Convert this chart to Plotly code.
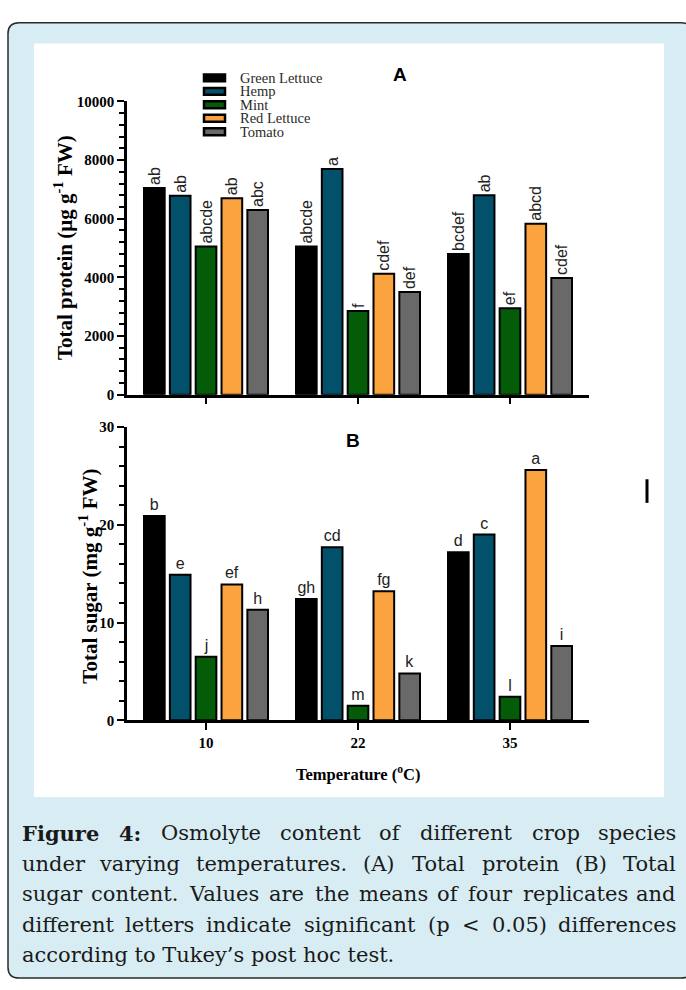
import plotly.graph_objects as go

W, H = 686, 990

# ---------------- data ----------------
temps = ["10", "22", "35"]
species = ["Green Lettuce", "Hemp", "Mint", "Red Lettuce", "Tomato"]
colors = ["#000000", "#03506a", "#045c08", "#fba43f", "#696969"]

# Total protein (ug g-1 FW)
protein_green_lettuce = [7050, 5050, 4800]
protein_hemp = [6780, 7700, 6800]
protein_mint = [5050, 2850, 2950]
protein_red_lettuce = [6700, 4120, 5830]
protein_tomato = [6300, 3500, 3980]
protein_letters_green_lettuce = ["ab", "abcde", "bcdef"]
protein_letters_hemp = ["ab", "a", "ab"]
protein_letters_mint = ["abcde", "f", "ef"]
protein_letters_red_lettuce = ["ab", "cdef", "abcd"]
protein_letters_tomato = ["abc", "def", "cdef"]

# Total sugar (mg g-1 FW)
sugar_green_lettuce = [20.9, 12.4, 17.2]
sugar_hemp = [14.9, 17.7, 19.0]
sugar_mint = [6.5, 1.5, 2.4]
sugar_red_lettuce = [13.9, 13.2, 25.6]
sugar_tomato = [11.3, 4.8, 7.6]
sugar_letters_green_lettuce = ["b", "gh", "d"]
sugar_letters_hemp = ["e", "cd", "c"]
sugar_letters_mint = ["j", "m", "l"]
sugar_letters_red_lettuce = ["ef", "fg", "a"]
sugar_letters_tomato = ["h", "k", "i"]

protein_ticks = [0, 2000, 4000, 6000, 8000, 10000]
protein_tick_labels = ["0", "2000", "4000", "6000", "8000", "10000"]
sugar_ticks = [0, 10, 20, 30]
sugar_tick_labels = ["0", "10", "20", "30"]

protein_series = [protein_green_lettuce, protein_hemp, protein_mint, protein_red_lettuce, protein_tomato]
protein_letters = [protein_letters_green_lettuce, protein_letters_hemp, protein_letters_mint,
                   protein_letters_red_lettuce, protein_letters_tomato]
sugar_series = [sugar_green_lettuce, sugar_hemp, sugar_mint, sugar_red_lettuce, sugar_tomato]
sugar_letters = [sugar_letters_green_lettuce, sugar_letters_hemp, sugar_letters_mint,
                 sugar_letters_red_lettuce, sugar_letters_tomato]

caption_lines = [
    "Figure 4: Osmolyte content of different crop species",
    "under varying temperatures. (A) Total protein (B) Total",
    "sugar content. Values are the means of four replicates and",
    "different letters indicate significant (p < 0.05) differences",
    "according to Tukey\u2019s post hoc test.",
]


def px(x):
    return x / W


def py(y):
    return 1 - y / H


SERIF = "Liberation Serif"
SANS = "Liberation Sans"

fig = go.Figure()

for name, col, vals, labs in zip(species, colors, protein_series, protein_letters):
    fig.add_trace(go.Bar(
        x=temps, y=vals, name=name, xaxis="x", yaxis="y",
        marker=dict(color=col, line=dict(color="black", width=2)),
        text=labs, textposition="outside", textangle=-90, constraintext="none",
        cliponaxis=False, textfont=dict(family=SANS, size=16, color="#222")))

for name, col, vals, labs in zip(species, colors, sugar_series, sugar_letters):
    fig.add_trace(go.Bar(
        x=temps, y=vals, name=name, xaxis="x2", yaxis="y2",
        marker=dict(color=col, line=dict(color="black", width=2)),
        text=labs, textposition="outside", textangle=0, constraintext="none",
        cliponaxis=False, textfont=dict(family=SANS, size=16, color="#222")))

xdom = [px(127), px(589)]
tickfont = dict(family=SERIF, size=15, color="black", weight="bold")
common = dict(showline=True, linecolor="black", linewidth=2.5, ticks="outside",
              tickcolor="black", tickwidth=2, ticklen=7, showgrid=False, zeroline=False)

fig.update_layout(
    width=W, height=H, margin=dict(l=0, r=0, t=0, b=0),
    paper_bgcolor="white", plot_bgcolor="rgba(0,0,0,0)",
    showlegend=False, barmode="group", bargap=0.15, bargroupgap=0.2,
    xaxis=dict(domain=xdom, anchor="y", type="category", range=[-0.52, 2.52],
               showticklabels=False, **common),
    yaxis=dict(domain=[py(393), py(95)], anchor="x", range=[0, 10000],
               tickmode="array", tickvals=protein_ticks, ticktext=protein_tick_labels,
               tickfont=tickfont,
               minor=dict(dtick=400, ticks="outside", ticklen=5, tickwidth=2, tickcolor="black"),
               **common),
    xaxis2=dict(domain=xdom, anchor="y2", type="category", range=[-0.52, 2.52],
                tickfont=dict(family=SERIF, size=15, color="black", weight="bold"), **common),
    yaxis2=dict(domain=[py(724), py(426)], anchor="x2", range=[0, 30],
                tickmode="array", tickvals=sugar_ticks, ticktext=sugar_tick_labels,
                tickfont=tickfont,
                minor=dict(dtick=2, ticks="outside", ticklen=5, tickwidth=2, tickcolor="black"),
                **common),
)

shapes = []
# rounded caption box
x0, x1, y0, y1, r = 8, 692, 15, 986, 11
path = (f"M {px(x0 + r)},{py(y0)} L {px(x1 - r)},{py(y0)} Q {px(x1)},{py(y0)} {px(x1)},{py(y0 + r)} "
        f"L {px(x1)},{py(y1 - r)} Q {px(x1)},{py(y1)} {px(x1 - r)},{py(y1)} "
        f"L {px(x0 + r)},{py(y1)} Q {px(x0)},{py(y1)} {px(x0)},{py(y1 - r)} "
        f"L {px(x0)},{py(y0 + r)} Q {px(x0)},{py(y0)} {px(x0 + r)},{py(y0)} Z")
shapes.append(dict(type="path", path=path, xref="paper", yref="paper", layer="below",
                   fillcolor="#d8edf3", line=dict(color="#2a2a2a", width=1.5)))
shapes.append(dict(type="rect", xref="paper", yref="paper", layer="below",
                   x0=px(34), x1=px(664), y0=py(802), y1=py(36),
                   fillcolor="white", line=dict(width=0)))
# stray mark in the figure image
shapes.append(dict(type="line", xref="paper", yref="paper", x0=px(647), x1=px(647),
                   y0=py(503), y1=py(479), line=dict(color="black", width=3)))

annotations = []
# legend (manual, tight spacing as in the original)
for i, (name, col) in enumerate(zip(species, colors)):
    yc = 71 + i * 13.7
    shapes.append(dict(type="rect", xref="paper", yref="paper",
                       x0=px(204), x1=px(225), y0=py(yc + 3.5), y1=py(yc - 3.5),
                       fillcolor=col, line=dict(color="black", width=2.5)))
    annotations.append(dict(text=name, x=px(238), y=py(yc), xref="paper", yref="paper",
                            xanchor="left", yanchor="middle", showarrow=False,
                            font=dict(family=SERIF, size=14.5, color="#2a2a2a")))

annotations += [
    dict(text="A", x=px(400), y=py(68), font=dict(family=SANS, size=19, color="black", weight="bold")),
    dict(text="B", x=px(353), y=py(440), font=dict(family=SANS, size=19, color="black", weight="bold")),
    dict(text="Total protein (\u03bcg g<sup>-1</sup> FW)", x=px(63), y=py(244), textangle=-90,
         font=dict(family=SERIF, size=21, color="black", weight="bold")),
    dict(text="Total sugar (mg g<sup>-1</sup> FW)", x=px(89), y=py(578), textangle=-90,
         font=dict(family=SERIF, size=21, color="black", weight="bold")),
    dict(text="Temperature (<sup>o</sup>C)", x=px(358), y=py(778),
         font=dict(family=SERIF, size=16.5, color="black", weight="bold")),
]
for a in annotations[-5:]:
    a.update(xref="paper", yref="paper", showarrow=False, xanchor="center", yanchor="middle")

# caption, justified word by word
CW = {' ': 0.318, 'a': 0.596, 'b': 0.640, 'c': 0.560, 'd': 0.640, 'e': 0.592, 'f': 0.370, 'g': 0.640,
      'h': 0.644, 'i': 0.320, 'j': 0.320, 'k': 0.606, 'l': 0.320, 'm': 0.948, 'n': 0.644, 'o': 0.602,
      'p': 0.640, 'q': 0.640, 'r': 0.478, 's': 0.513, 't': 0.402, 'u': 0.644, 'v': 0.565, 'w': 0.856,
      'x': 0.564, 'y': 0.565, 'z': 0.527, 'A': 0.722, 'B': 0.735, 'C': 0.765, 'F': 0.677, 'O': 0.787,
      'T': 0.684, 'V': 0.722, '(': 0.390, ')': 0.390, '.': 0.318, ':': 0.338, '<': 0.838, '0': 0.636,
      '4': 0.636, '5': 0.636, '\u2019': 0.318}
CAP_FONT = "DejaVu Serif"
CAP_SIZE = 21
LEFT, RIGHT = 20, 678


def wwidth(w, bold):
    return sum(CW.get(c, 0.6) for c in w) * CAP_SIZE * (1.12 if bold else 1.0)


for li, line in enumerate(caption_lines):
    yc = 839 + li * 31
    words = line.split(" ")
    bolds = [li == 0 and wi < 2 for wi in range(len(words))]
    if li == len(caption_lines) - 1:
        annotations.append(dict(text=line, x=px(LEFT), y=py(yc), xref="paper", yref="paper",
                                xanchor="left", yanchor="middle", showarrow=False,
                                font=dict(family=CAP_FONT, size=CAP_SIZE, color="#1a1a1a")))
        continue
    widths = [wwidth(w, b) for w, b in zip(words, bolds)]
    gap = (RIGHT - LEFT - sum(widths)) / (len(words) - 1)
    xpos = LEFT
    for wi, (w, b, wd) in enumerate(zip(words, bolds, widths)):
        if wi == 0:
            xa, xx = "left", xpos
        elif wi == len(words) - 1:
            xa, xx = "right", RIGHT
        else:
            xa, xx = "center", xpos + wd / 2
        annotations.append(dict(text=w.replace("<", "&lt;"), x=px(xx), y=py(yc), xref="paper",
                                yref="paper", xanchor=xa, yanchor="middle", showarrow=False,
                                font=dict(family=CAP_FONT, size=CAP_SIZE, color="#1a1a1a",
                                          weight="bold" if b else "normal")))
        xpos += wd + gap

fig.update_layout(shapes=shapes, annotations=annotations)
post = (
    "document.documentElement.style.margin='0px';"
    "document.documentElement.style.overflow='hidden';"
    "document.body.style.margin='0px';document.body.style.padding='0px';"
    "document.body.style.overflow='hidden';"
    "var gd=document.getElementById('{plot_id}');"
    "gd.style.position='fixed';gd.style.top='0px';gd.style.left='0px';"
)
fig.write_html("out.html", config={"displayModeBar": False}, post_script=post)
